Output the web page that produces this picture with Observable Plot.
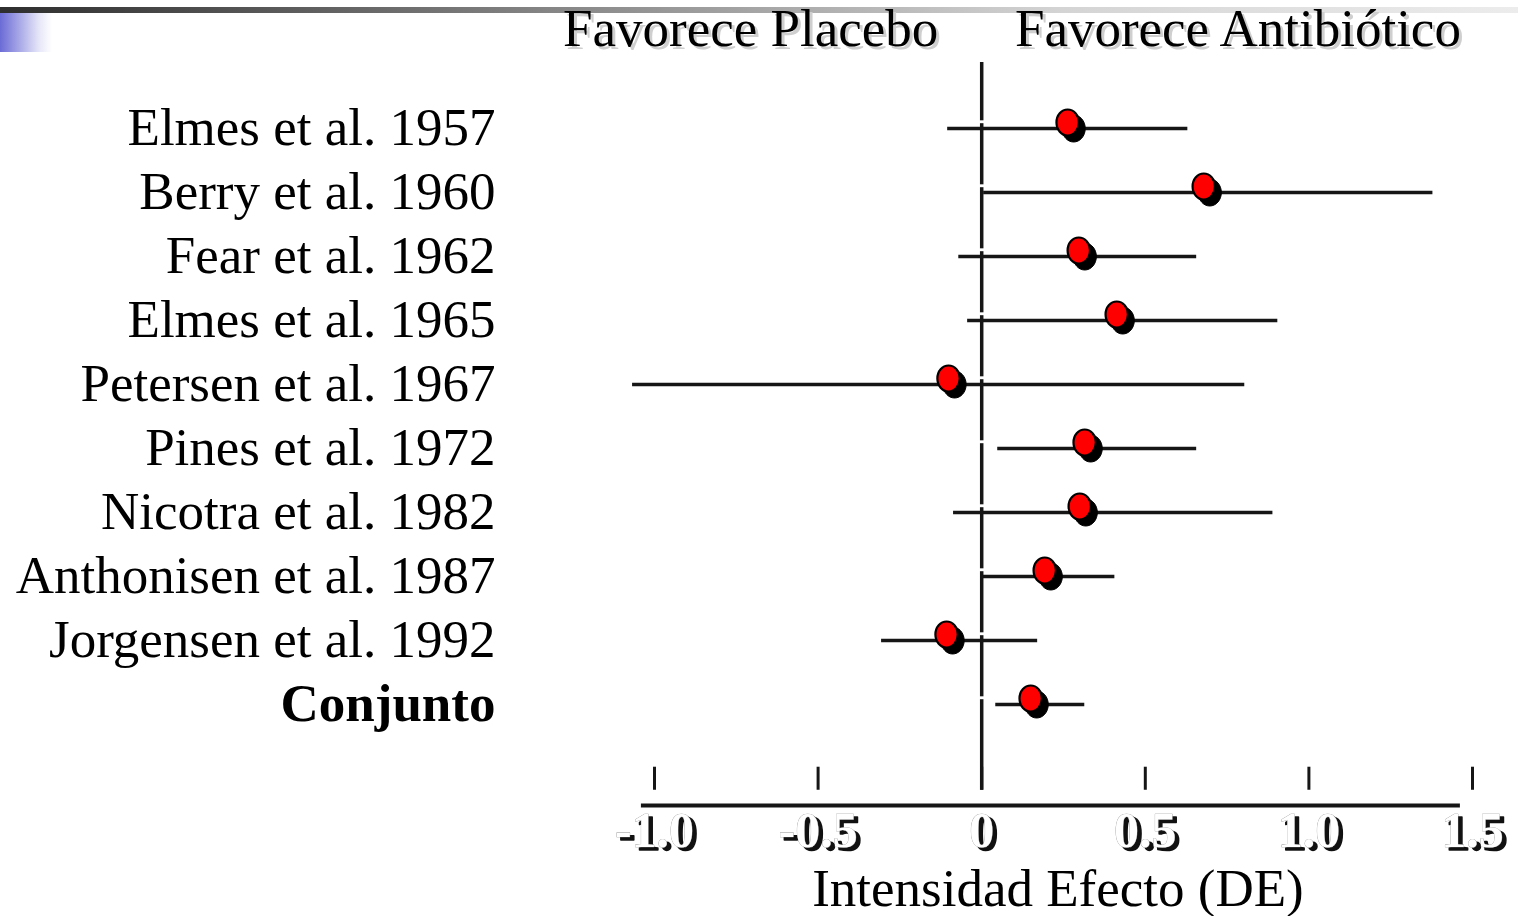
<!DOCTYPE html>
<html>
<head>
<meta charset="utf-8">
<script src="https://cdn.jsdelivr.net/npm/d3@7"></script>
<script src="https://cdn.jsdelivr.net/npm/@observablehq/plot@0.6"></script>
<style>
  html, body { margin: 0; padding: 0; background: #fff; }
  #wrap { position: relative; width: 1518px; height: 916px; overflow: hidden; }
  #bar { position: absolute; left: 0; top: 7px; width: 1518px; height: 6px;
         background: linear-gradient(to right, #2e2e2e 0%, #6a6a6a 25%, #9a9a9a 45%, #d4d4d4 70%, #ececec 100%); }
  #blue { position: absolute; left: 0; top: 13px; width: 52px; height: 39px;
          background: linear-gradient(to right, #6b6bd6 0%, #a4a4e6 35%, #e6e6f8 75%, #ffffff 100%); }
  #chart { position: absolute; left: 0; top: 0; }
  #chart svg { background: transparent !important; }
</style>
</head>
<body>
<div id="wrap">
  <div id="bar"></div>
  <div id="blue"></div>
  <div id="chart"></div>
</div>
<script>
// ---- data ----
const studies = ["Elmes et al. 1957", "Berry et al. 1960", "Fear et al. 1962", "Elmes et al. 1965",
  "Petersen et al. 1967", "Pines et al. 1972", "Nicotra et al. 1982", "Anthonisen et al. 1987",
  "Jorgensen et al. 1992", "Conjunto"];
const estimates = [0.281, 0.697, 0.315, 0.431, -0.083, 0.333, 0.318, 0.211, -0.089, 0.168];
const lower = [-0.104, 0.006, -0.070, -0.043, -1.067, 0.049, -0.086, 0.000, -0.306, 0.043];
const upper = [0.630, 1.379, 0.657, 0.905, 0.804, 0.657, 0.890, 0.407, 0.171, 0.315];
const tickValues = [-1.0, -0.5, 0, 0.5, 1.0, 1.5];
const tickLabels = ["-1.0", "-0.5", "0", "0.5", "1.0", "1.5"];
const sideLabels = ["Favorece Placebo", "Favorece Antibiótico"];
const sidePositions = [-0.706, 0.783];
const axisTitle = "Intensidad Efecto (DE)";

const rows = studies.map((s, i) => ({i, study: s, est: estimates[i], lo: lower[i], hi: upper[i], pooled: s === "Conjunto"}));

// layout (row-index units on y)
const zeroTop = -1.03, zeroBottom = 10.34;
const tickTop = 9.98, tickBottom = 10.34;
const axisLineY = 10.58, axisLineX1 = -1.04, axisLineX2 = 1.463;
const tickLabelY = 10.97, axisTitleY = 11.89, sideLabelY = -1.56;

const serif = "Liberation Serif, Times New Roman, serif";
const ink = "#161616";

// ellipse symbol
const ellipse = {
  draw(ctx, size) {
    const r = Math.sqrt(size / Math.PI);
    const rx = r * 0.86, ry = r, k = 0.5523;
    ctx.moveTo(rx, 0);
    ctx.bezierCurveTo(rx, ry * k, rx * k, ry, 0, ry);
    ctx.bezierCurveTo(-rx * k, ry, -rx, ry * k, -rx, 0);
    ctx.bezierCurveTo(-rx, -ry * k, -rx * k, -ry, 0, -ry);
    ctx.bezierCurveTo(rx * k, -ry, rx, -ry * k, rx, 0);
    ctx.closePath();
  }
};

const chart = Plot.plot({
  width: 1518,
  height: 916,
  marginLeft: 654,
  marginRight: 46,
  marginTop: 0,
  marginBottom: 0,
  style: {background: "transparent", overflow: "visible"},
  x: {domain: [-1, 1.5], axis: null},
  y: {domain: [-2, 12.3125], range: [0, 916], axis: null},
  marks: [
    // zero line
    Plot.ruleX([0], {x: d => d, y1: zeroTop, y2: zeroBottom, stroke: ink, strokeWidth: 3.5}),
    // white notches above each CI line on the zero line
    Plot.ruleX(rows, {x: 0, y1: d => d.i - 0.12, y2: d => d.i - 0.075, stroke: "white", strokeWidth: 5}),
    // CI lines
    Plot.ruleY(rows, {y: "i", x1: "lo", x2: "hi", stroke: ink, strokeWidth: 3.5}),
    // dot shadows
    Plot.dot(rows, {x: "est", y: "i", r: 13.5, symbol: ellipse, fill: "black", stroke: "black", strokeWidth: 1}),
    // red dots
    Plot.dot(rows, {x: "est", y: "i", r: 13, dx: -6, dy: -6, symbol: ellipse, fill: "#ff0000", stroke: "black", strokeWidth: 2.2}),
    // study labels
    Plot.text(rows.filter(d => !d.pooled), {y: "i", text: "study", frameAnchor: "left", dx: -159, textAnchor: "end",
      fontFamily: serif, fontSize: 53, fill: "black"}),
    Plot.text(rows.filter(d => d.pooled), {y: "i", text: "study", frameAnchor: "left", dx: -159, textAnchor: "end",
      fontFamily: serif, fontSize: 53, fontWeight: "bold", fill: "black"}),
    // side titles (with soft shadow)
    Plot.text(sideLabels, {x: (d, i) => sidePositions[i], y: sideLabelY, text: d => d, dx: 3, dy: 3,
      fontFamily: serif, fontSize: 53, fill: "#cfcfcf"}),
    Plot.text(sideLabels, {x: (d, i) => sidePositions[i], y: sideLabelY, text: d => d,
      fontFamily: serif, fontSize: 53, fill: "black"}),
    // axis ticks
    Plot.ruleX(tickValues, {x: d => d, y1: tickTop, y2: tickBottom, stroke: ink, strokeWidth: 3}),
    // axis line
    Plot.ruleY([axisLineY], {y: d => d, x1: axisLineX1, x2: axisLineX2, stroke: ink, strokeWidth: 4}),
    // tick labels: dark shadow then white embossed
    Plot.text(tickValues, {x: d => d, y: tickLabelY, text: (d, i) => tickLabels[i], dx: 4, dy: 3,
      fontFamily: serif, fontSize: 50, fontWeight: "bold", fill: "#111", stroke: "#111", strokeWidth: 1.5}),
    Plot.text(tickValues, {x: d => d, y: tickLabelY, text: (d, i) => tickLabels[i],
      fontFamily: serif, fontSize: 50, fontWeight: "bold", fill: "white", stroke: "#888888", strokeWidth: 0.6}),
    // axis title
    Plot.text([axisTitle], {x: 0.233, y: axisTitleY, text: d => d, fontFamily: serif, fontSize: 53, fill: "black"})
  ]
});
document.getElementById("chart").appendChild(chart);
</script>
</body>
</html>
